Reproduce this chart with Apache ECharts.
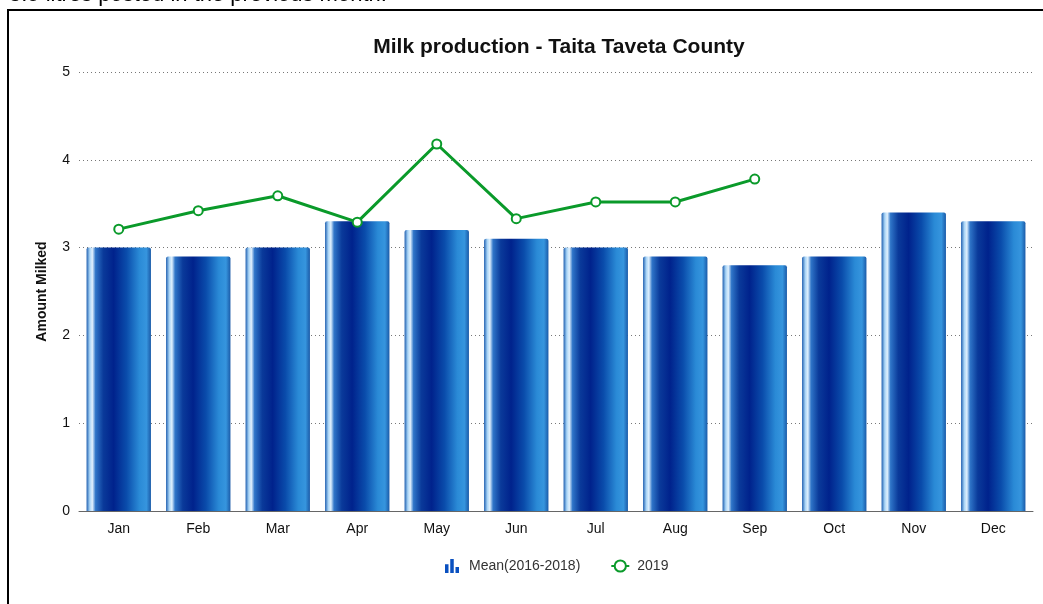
<!DOCTYPE html>
<html>
<head>
<meta charset="utf-8">
<title>Milk production - Taita Taveta County</title>
<script src="https://cdn.jsdelivr.net/npm/echarts@6/dist/echarts.min.js"></script>
<style>
  html, body { margin: 0; padding: 0; background: #fff; }
  #chart { width: 1043px; height: 604px; }
</style>
</head>
<body>
<div id="chart"></div>
<script>
// Monthly categories and series values (litres)
const months = ['Jan', 'Feb', 'Mar', 'Apr', 'May', 'Jun', 'Jul', 'Aug', 'Sep', 'Oct', 'Nov', 'Dec'];
const meanValues = [3.0, 2.9, 3.0, 3.3, 3.2, 3.1, 3.0, 2.9, 2.8, 2.9, 3.4, 3.3];
const values2019 = [3.21, 3.42, 3.59, 3.29, 4.18, 3.33, 3.52, 3.52, 3.78];
const yTicks = [0, 1, 2, 3, 4, 5];

const chart = echarts.init(document.getElementById('chart'), null, { renderer: 'canvas' });

// Cylinder-like shading across each bar
const barFill = new echarts.graphic.LinearGradient(0, 0, 1, 0, [
  { offset: 0.00, color: '#1f5fb0' },
  { offset: 0.05, color: '#a8d4f6' },
  { offset: 0.09, color: '#e0f0fd' },
  { offset: 0.14, color: '#2f75c8' },
  { offset: 0.26, color: '#0a3a9a' },
  { offset: 0.42, color: '#00228c' },
  { offset: 0.62, color: '#0a4cab' },
  { offset: 0.82, color: '#2a8ad6' },
  { offset: 0.93, color: '#3695de' },
  { offset: 1.00, color: '#1a5aa8' }
]);

const barIcon = 'path://M0,6 L4,6 L4,16 L0,16 Z M6,0 L10,0 L10,16 L6,16 Z M12,9 L16,9 L16,16 L12,16 Z';

chart.setOption({
  animation: false,
  textStyle: { fontFamily: 'Liberation Sans, Arial, sans-serif' },
  title: {
    text: 'Milk production - Taita Taveta County',
    left: 554,
    textAlign: 'center',
    top: 32,
    textStyle: { fontSize: 21, fontWeight: 'bold', color: '#111' }
  },
  graphic: [
    {
      type: 'text',
      x: 9,
      y: -16,
      style: {
        text: '3.5 litres posted in the previous month.',
        font: '22px "Liberation Sans", Arial, sans-serif',
        fill: '#000',
        verticalAlign: 'top'
      }
    },
    {
      type: 'rect',
      shape: { x: 8, y: 10, width: 1200, height: 800 },
      style: { fill: 'none', stroke: '#000', lineWidth: 2 },
      z: 100
    }
  ],
  legend: {
    bottom: 26,
    left: 440,
    itemGap: 30,
    itemWidth: 18,
    itemHeight: 14,
    textStyle: { fontSize: 14, color: '#333', padding: [0, 0, 0, 3] },
    data: [
      { name: 'Mean(2016-2018)', icon: barIcon, itemStyle: { color: '#0a50c0' } },
      { name: '2019' }
    ]
  },
  grid: { left: 79, right: 10, top: 72, bottom: 93, containLabel: false },
  xAxis: {
    type: 'category',
    data: months,
    axisLine: { lineStyle: { color: '#666', width: 1 } },
    axisTick: { show: false },
    axisLabel: { color: '#111', fontSize: 14, margin: 11 }
  },
  yAxis: {
    type: 'value',
    min: yTicks[0],
    max: yTicks[yTicks.length - 1],
    interval: 1,
    name: 'Amount Milked',
    nameLocation: 'middle',
    nameGap: 30,
    nameTextStyle: { fontSize: 14, fontWeight: 'bold', color: '#111' },
    axisLine: { show: false },
    axisTick: { show: false },
    axisLabel: { color: '#111', fontSize: 14, margin: 9 },
    splitLine: { lineStyle: { color: '#777', type: [1, 3], width: 1 } }
  },
  series: [
    {
      name: 'Mean(2016-2018)',
      type: 'bar',
      data: meanValues,
      barCategoryGap: '19%',
      itemStyle: {
        color: barFill,
        borderRadius: [2, 2, 0, 0]
      }
    },
    {
      name: '2019',
      type: 'line',
      data: values2019,
      symbol: 'circle',
      symbolSize: 9,
      z: 5,
      lineStyle: { color: '#0a9a2a', width: 3 },
      itemStyle: { color: '#fff', borderColor: '#0a9a2a', borderWidth: 2 }
    }
  ]
});
</script>
</body>
</html>
